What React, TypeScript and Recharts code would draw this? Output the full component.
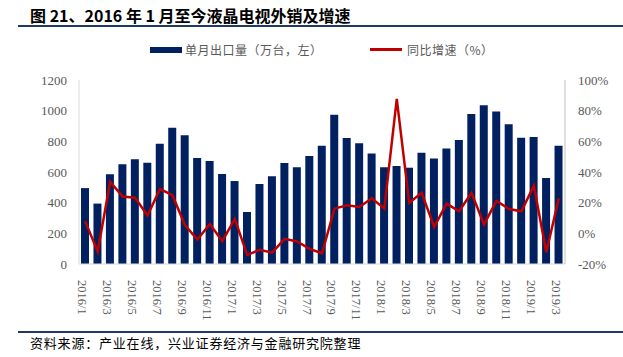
import React from 'react';
import { ComposedChart, Bar, Line, XAxis, YAxis } from 'recharts';

const months = [
  '2016/1', '2016/2', '2016/3', '2016/4', '2016/5', '2016/6', '2016/7', '2016/8', '2016/9', '2016/10', '2016/11', '2016/12',
  '2017/1', '2017/2', '2017/3', '2017/4', '2017/5', '2017/6', '2017/7', '2017/8', '2017/9', '2017/10', '2017/11', '2017/12',
  '2018/1', '2018/2', '2018/3', '2018/4', '2018/5', '2018/6', '2018/7', '2018/8', '2018/9', '2018/10', '2018/11', '2018/12',
  '2019/1', '2019/2', '2019/3',
];

// 单月出口量（万台）
const exports = [
  495, 394, 585, 650, 683, 661, 784, 889, 839, 692, 672, 587,
  541, 339, 521, 572, 659, 631, 705, 771, 974, 821, 788, 720,
  631, 639, 628, 725, 688, 753, 808, 979, 1036, 994, 911, 823,
  828, 561, 771,
];

// 同比增速（%）
const growth = [
  7.8, -11.9, 33.6, 24, 23.2, 11.6, 28.9, 24.9, 5.4, -4.0, 6.1, -5.1,
  9.4, -14.1, -10.8, -12.6, -3.6, -5.3, -10.1, -13.0, 16.1, 18.3, 17.2, 22.9,
  16.1, 87.7, 19.9, 26.4, 4.1, 19.4, 14.4, 26.4, 5.8, 21.2, 15.9, 14.4,
  31.0, -12.3, 22.9,
];

const leftTicks = [0, 200, 400, 600, 800, 1000, 1200];
const rightTicks = [-20, 0, 20, 40, 60, 80, 100];

const data = months.map((m, i) => ({ month: m, exports: exports[i], growth: growth[i] }));

const NAVY = '#002060';
const RED = '#C00000';
const GRAY = '#595959';
const SERIF = '"Liberation Serif", "DejaVu Serif", serif';
const CJK = '"Noto Sans CJK SC", "Noto Sans", sans-serif';

const MonthTick = (props: any) => {
  const { x, y, payload } = props;
  return (
    <text
      x={x - 3}
      y={y + 8}
      transform={`rotate(90, ${x - 3}, ${y + 8})`}
      textAnchor="start"
      dominantBaseline="central"
      fontFamily={SERIF}
      fontSize={12.5}
      fill={GRAY}
    >
      {payload.value}
    </text>
  );
};

export default function App() {
  return (
    <div style={{ position: 'absolute', left: 0, top: 0, width: 623, height: 357, background: '#fff', overflow: 'hidden' }}>
      <div style={{ position: 'absolute', left: 30, top: 4, fontFamily: CJK, fontWeight: 700, fontSize: 16, color: '#000', whiteSpace: 'nowrap', lineHeight: '22px' }}>
        图 21、2016 年 1 月至今液晶电视外销及增速
      </div>
      <div style={{ position: 'absolute', left: 18, top: 25, width: 605, height: 2, background: '#1F3864' }} />

      <div style={{ position: 'absolute', left: 150, top: 47, width: 32, height: 6, background: NAVY }} />
      <div style={{ position: 'absolute', left: 185, top: 41, fontFamily: CJK, fontSize: 12, color: GRAY, whiteSpace: 'nowrap', lineHeight: '18px', letterSpacing: 0.5 }}>
        单月出口量（万台，左）
      </div>
      <div style={{ position: 'absolute', left: 370, top: 48, width: 32, height: 3, background: RED }} />
      <div style={{ position: 'absolute', left: 407, top: 41, fontFamily: CJK, fontSize: 12, color: GRAY, whiteSpace: 'nowrap', lineHeight: '18px', letterSpacing: 0.5 }}>
        同比增速（%）
      </div>

      <div style={{ position: 'absolute', left: 0, top: 0 }}>
        <ComposedChart width={623} height={357} data={data} margin={{ top: 80, right: 0, bottom: 0, left: 0 }}>
          <XAxis
            dataKey="month"
            xAxisId={0}
            interval={1}
            height={93}
            tick={<MonthTick />}
            tickLine={false}
            axisLine={{ stroke: '#D9D9D9' }}
          />
          <YAxis
            yAxisId="left"
            orientation="left"
            width={79}
            domain={[0, 1200]}
            ticks={leftTicks}
            tickLine={false}
            tickMargin={6}
            axisLine={{ stroke: '#D9D9D9' }}
            tick={{ fill: GRAY, fontSize: 13, fontFamily: SERIF }}
          />
          <YAxis
            yAxisId="right"
            orientation="right"
            width={58}
            domain={[-20, 100]}
            ticks={rightTicks}
            tickFormatter={(v: number) => `${v}%`}
            tickLine={false}
            tickMargin={7}
            axisLine={{ stroke: '#BFBFBF' }}
            tick={{ fill: GRAY, fontSize: 13, fontFamily: SERIF, textAnchor: 'start' }}
          />
          <Bar yAxisId="left" dataKey="exports" fill={NAVY} barSize={8} isAnimationActive={false} />
          <Line
            yAxisId="right"
            dataKey="growth"
            type="linear"
            stroke={RED}
            strokeWidth={2.5}
            dot={false}
            activeDot={false}
            isAnimationActive={false}
          />
        </ComposedChart>
      </div>

      <div style={{ position: 'absolute', left: 18, top: 331, width: 605, height: 2, background: '#1F3864' }} />
      <div style={{ position: 'absolute', left: 30, top: 334, fontFamily: CJK, fontSize: 13, color: '#000', whiteSpace: 'nowrap', lineHeight: '18px', letterSpacing: 0.8 }}>
        资料来源：产业在线，兴业证券经济与金融研究院整理
      </div>
    </div>
  );
}
